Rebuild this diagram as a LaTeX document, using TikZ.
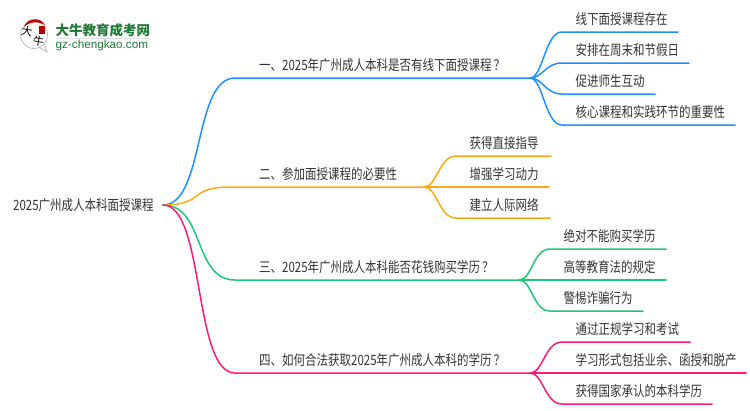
\documentclass[tikz,border=0pt]{standalone}
\usepackage{fontspec}
\setmainfont{Noto Sans CJK SC}
\setsansfont{Liberation Sans}
\definecolor{cblue}{HTML}{1E90FF}
\definecolor{corange}{HTML}{FBAA14}
\definecolor{cgreen}{HTML}{1CC97A}
\definecolor{cpink}{HTML}{FF1A78}
\definecolor{ctext}{HTML}{333333}
\definecolor{clogo}{HTML}{1F7A35}
\tikzset{
  lbl/.style={text=ctext,inner sep=0pt,anchor=base west,xscale=.81,font=\fontsize{14.2}{16}\selectfont},
  wire/.style={line width=1.5pt,line cap=round},
}
\begin{document}
\begin{tikzpicture}[x=1pt,y=-1pt]
\useasboundingbox (0,0) rectangle (750,410);
% logo
\filldraw[draw=black!25,fill=white,line width=.8pt] (34,35) circle (13.5) (39,47)--(47,52)--(44,43);
\fill[red!75!black] (24,27) .. controls (27,17) and (41,17) .. (45,25) .. controls (38,21) and (30,21) .. (24,27);
\fill[red!70!black] (39,26) rectangle (45,34);
\node[rotate=-10,inner sep=0pt,font=\fontsize{11}{11}\selectfont] (logoa) at (27,31.5) {大};
\node[rotate=-10,inner sep=0pt,font=\fontsize{11}{11}\selectfont] (logob) at (38.5,41.5) {牛};
\node[inner sep=0pt,anchor=west,text=clogo,font=\bfseries\fontsize{13.5}{14}\selectfont] (logoc) at (55.5,30) {大牛教育成考网};
\draw[black!12] (55,38.5)--(150,38.5);
\node[inner sep=0pt,anchor=west,text=clogo,font=\sffamily\fontsize{11.7}{12}\selectfont] (logod) at (55.5,45) {gz-chengkao.com};
% root
\node[lbl] (root) at (13,210.5) {2025广州成人本科面授课程};
\coordinate (o) at (163,205);
% topics
\foreach \n/\cc/\yy/\xa/\xb/\tx in {
  a/cblue/78/235/530/一、2025年广州成人本科是否有线下面授课程\,？,
  b/corange/187/230/424/二、参加面授课程的必要性,
  c/cgreen/280/235/519/三、2025年广州成人本科能否花钱购买学历\,？,
  d/cpink/373/235/530/四、如何合法获取2025年广州成人本科的学历\,？}{
  \coordinate (\n s) at (\xa,\yy);
  \coordinate (\n) at (\xb,\yy);
  \node[lbl] (\n t) at (259,\yy-7.5) {\tx};
  \draw[wire,\cc] (o) .. controls +(42,0) and ([xshift=-42]\n s) .. (\n s) -- (\n);
}
% leaves
\foreach \n/\p/\cc/\yy/\xa/\xb/\tx in {
  a1/a/cblue/32/562/678/线下面授课程存在,
  a2/a/cblue/63/562/689/安排在周末和节假日,
  a3/a/cblue/94/562/655/促进师生互动,
  a4/a/cblue/125/562/735/核心课程和实践环节的重要性,
  b1/b/corange/156/456/551/获得直接指导,
  b2/b/corange/187/456/549/增强学习动力,
  b3/b/corange/218/456/550/建立人际网络,
  c1/c/cgreen/249/550/666/绝对不能购买学历,
  c2/c/cgreen/280/550/666/高等教育法的规定,
  c3/c/cgreen/311/550/643/警惕诈骗行为,
  d1/d/cpink/342/562/690/通过正规学习和考试,
  d2/d/cpink/373/562/746/学习形式包括业余、函授和脱产,
  d3/d/cpink/404/562/712/获得国家承认的本科学历}{
  \coordinate (\n s) at (\xa,\yy);
  \coordinate (\n) at (\xb,\yy);
  \node[lbl] (\n t) at (\xa+13.5,\yy-7.5) {\tx};
  \draw[wire,\cc] (\p) .. controls +(13,0) and ([xshift=-17]\n s) .. (\n s) -- (\n);
}
\end{tikzpicture}
\end{document}
